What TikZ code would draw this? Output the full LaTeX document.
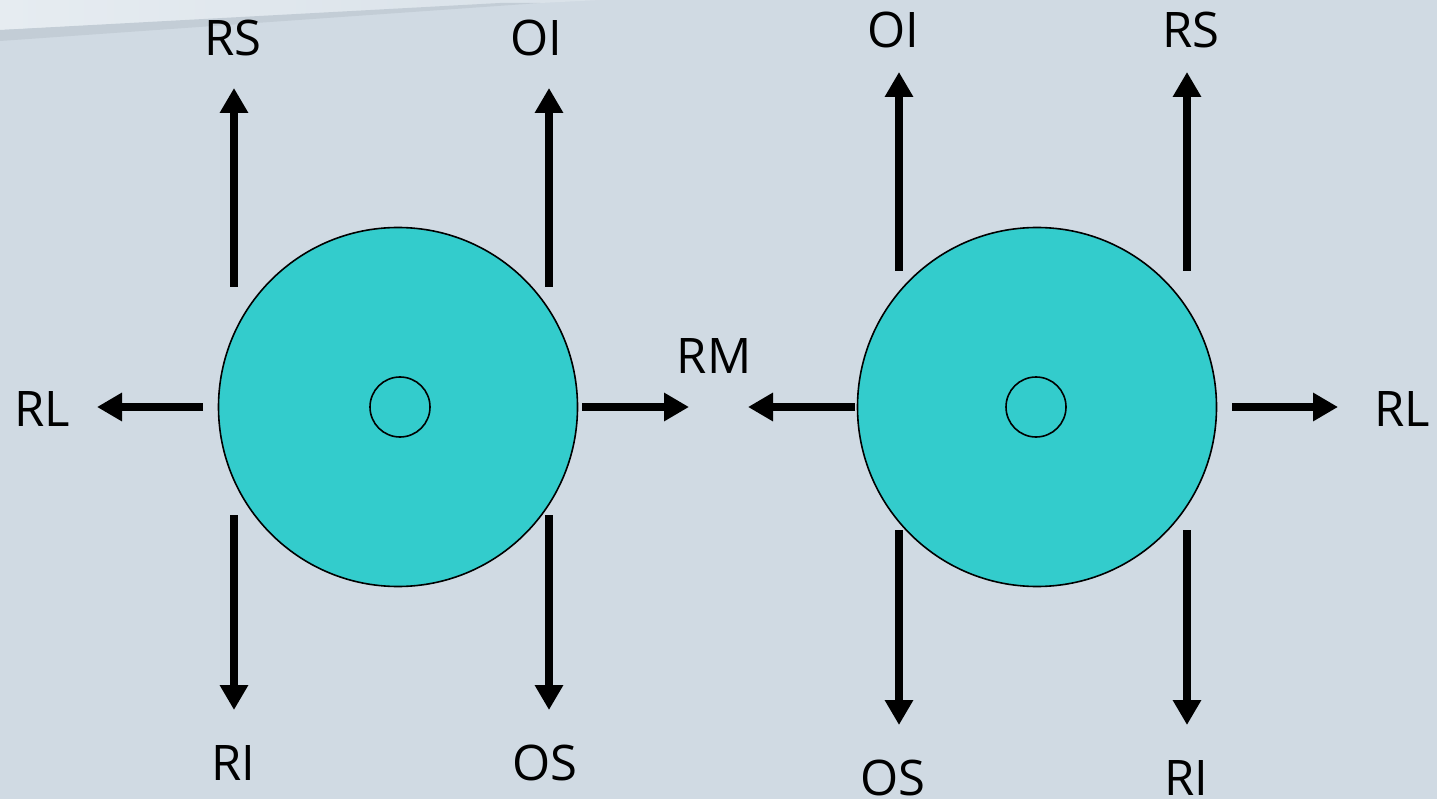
\documentclass[tikz,border=0pt]{standalone}
\usepackage{fontspec}
\setmainfont{Open Sans}
\usetikzlibrary{arrows.meta}
\definecolor{bg}{HTML}{D0DAE3}
\definecolor{bglight}{HTML}{E6ECF1}
\definecolor{bgshade}{HTML}{C3CDD6}
\definecolor{disc}{HTML}{33CCCC}
\tikzset{
  lbl/.style={font=\fontsize{49}{50}\selectfont, inner sep=0pt, text=black},
  arr/.style={line width=8pt, -{Triangle[length=25pt,width=27pt]}},
  bigdisc/.style={circle, draw=black, line width=1.6pt, fill=disc, minimum size=359pt, inner sep=0pt},
  hub/.style={circle, draw=black, line width=1.6pt, fill=disc, minimum size=60pt, inner sep=0pt},
}
\begin{document}
\begin{tikzpicture}[x=1pt,y=-1pt]
\useasboundingbox (0,0) rectangle (1437,799);
\fill[bg] (0,0) rectangle (1437,799);
% top-left light band with shadow
\shade[left color=bglight, right color=bg!60!bglight] (0,0) -- (600,0) -- (0,30) -- cycle;
\fill[bgshade] (0,30) -- (500,3) -- (540,3) -- (0,41) -- cycle;

% left disc
\node[bigdisc] (d1) at (398,407) {};
\node[hub] (h1) at (400,407) {};
% right disc
\node[bigdisc] (d2) at (1037,407) {};
\node[hub] (h2) at (1036,407) {};

% labels
\node[lbl] (rs1) at (233,38) {RS};
\node[lbl] (oi1) at (536,38) {OI};
\node[lbl] (rl1) at (42,409) {RL};
\node[lbl] (ri1) at (233,763) {RI};
\node[lbl] (os1) at (545,763) {OS};
\node[lbl] (rm) at (714,356) {RM};
\node[lbl] (oi2) at (893,30) {OI};
\node[lbl] (rs2) at (1191,30) {RS};
\node[lbl] (rl2) at (1402,409) {RL};
\node[lbl] (os2) at (893,778) {OS};
\node[lbl] (ri2) at (1186,778) {RI};

% arrow anchor coordinates
\coordinate (a1s) at (234,287); \coordinate (a1e) at (234,88);
\coordinate (a2s) at (549,287); \coordinate (a2e) at (549,88);
\coordinate (a3s) at (203,407); \coordinate (a3e) at (97,407);
\coordinate (a4s) at (582,407); \coordinate (a4e) at (689,407);
\coordinate (a5s) at (234,515); \coordinate (a5e) at (234,710);
\coordinate (a6s) at (549,515); \coordinate (a6e) at (549,710);
\coordinate (b1s) at (855,407); \coordinate (b1e) at (748,407);
\coordinate (b2s) at (899,271); \coordinate (b2e) at (899,72);
\coordinate (b3s) at (1187,271); \coordinate (b3e) at (1187,72);
\coordinate (b4s) at (1232,407); \coordinate (b4e) at (1338,407);
\coordinate (b5s) at (899,530); \coordinate (b5e) at (899,725);
\coordinate (b6s) at (1187,530); \coordinate (b6e) at (1187,725);

\foreach \p in {a1,a2,a3,a4,a5,a6,b1,b2,b3,b4,b5,b6}
  \draw[arr] (\p s) -- (\p e);
\end{tikzpicture}
\end{document}
